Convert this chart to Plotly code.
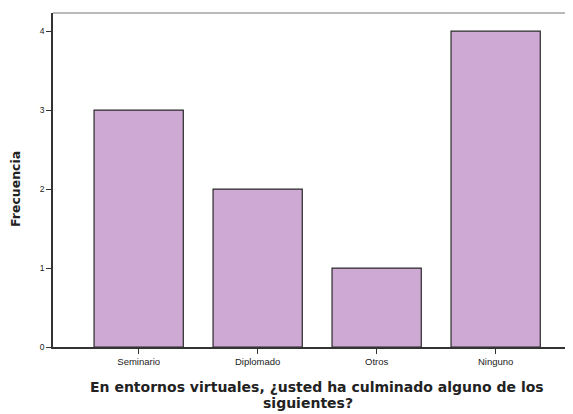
import plotly.graph_objects as go

categories = ["Seminario", "Diplomado", "Otros", "Ninguno"]
frecuencia = [3, 2, 1, 4]
y_ticks = [0, 1, 2, 3, 4]
x_title = ["En entornos virtuales, ¿usted ha culminado alguno de los", "siguientes?"]

# the page body adds an 8px offset, so the figure is sized to fit the window
fig = go.Figure(go.Bar(
    x=categories,
    y=frecuencia,
    width=0.75,
    marker=dict(color="#cda9d3", line=dict(color="#2a2a2a", width=1.2)),
))

fig.update_layout(
    width=565, height=406,
    margin=dict(l=45, r=0, t=5, b=67, autoexpand=False),
    paper_bgcolor="white",
    plot_bgcolor="white",
    showlegend=False,
    font=dict(family="Liberation Sans, Arial", color="#222"),
    xaxis=dict(
        range=[-0.72, 3.65],
        showline=True, linecolor="#333", linewidth=1.5,
        ticks="outside", ticklen=5, tickcolor="#333",
        tickfont=dict(size=9.5),
    ),
    yaxis=dict(
        range=[0, 4.23],
        tickvals=y_ticks,
        showline=True, linecolor="#333", linewidth=1.5,
        showgrid=False, zeroline=False,
        ticks="outside", ticklen=5, tickcolor="#333",
        tickfont=dict(size=8.5),
    ),
)

# axis titles as annotations (paper coords: plot area spans 520 x 334 px)
title_x = [317, 308]
title_y = [387, 403]
for line, tx, ty in zip(x_title, title_x, title_y):
    fig.add_annotation(text="<b>" + line + "</b>", xref="paper", yref="paper",
                       x=(tx - 53) / 520, y=(347 - ty) / 334,
                       showarrow=False, xanchor="center", yanchor="middle",
                       font=dict(size=14, family="DejaVu Sans", color="#222"))
fig.add_annotation(text="<b>Frecuencia</b>", xref="paper", yref="paper",
                   x=(16 - 53) / 520, y=(347 - 189) / 334, textangle=-90,
                   showarrow=False, xanchor="center", yanchor="middle",
                   font=dict(size=12.5, family="DejaVu Sans", color="#222"))

# thin grey frame line along the top of the plot area
fig.add_shape(type="line", xref="paper", yref="paper", x0=0, x1=1, y0=1, y1=1,
              line=dict(color="#777", width=1.2))

fig.write_html("out.html")
